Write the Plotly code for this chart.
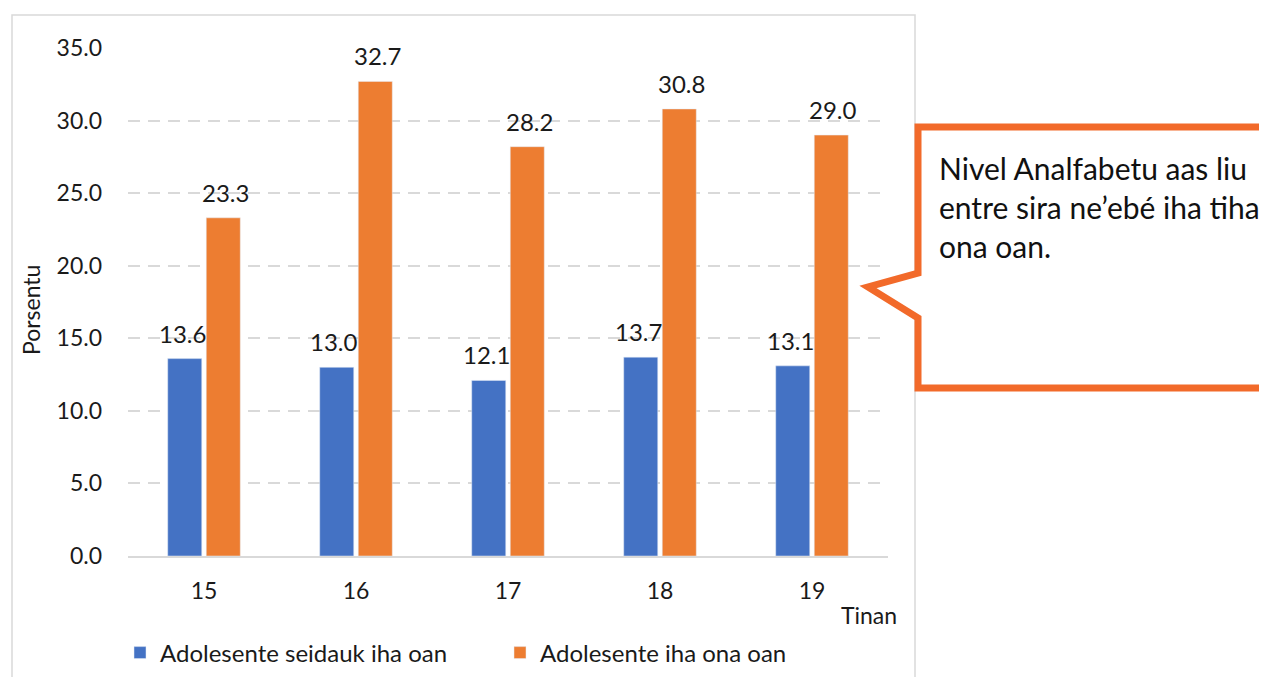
import plotly.graph_objects as go

categories = ["15", "16", "17", "18", "19"]
no_child = [13.6, 13.0, 12.1, 13.7, 13.1]
has_child = [23.3, 32.7, 28.2, 30.8, 29.0]
series_names = ["Adolesente seidauk iha oan", "Adolesente iha ona oan"]
y_ticks = [0, 5, 10, 15, 20, 25, 30, 35]
callout_lines = ["Nivel Analfabetu aas liu", "entre sira ne\u2019ebé iha tiha", "ona oan."]

BLUE = "#4472C4"
ORANGE = "#ED7D31"
CALLOUT = "#F26A2A"
FONT = "Lato"
TXT = "#1a1a1a"

O = 8  # page body margin offset
W, H = 1267 - O, 677 - O
L, R, T, B = 128 - O, 888 - O, 48 - O, 556 - O


def px(x):
    return (x - O - L) / (R - L)


def py(y):
    return (B - (y - O)) / (B - T)


fig = go.Figure()
fig.add_trace(go.Bar(x=categories, y=no_child, name=series_names[0], marker_color=BLUE))
fig.add_trace(go.Bar(x=categories, y=has_child, name=series_names[1], marker_color=ORANGE))

annotations = []
for vals, shift in ((no_child, -22), (has_child, 21)):
    for i, v in enumerate(vals):
        annotations.append(dict(x=i, y=v, xref="x", yref="y", text=f"{v:.1f}",
                                showarrow=False, xshift=shift, yanchor="bottom", yshift=9,
                                font=dict(family=FONT, size=24, color=TXT)))

annotations.append(dict(xref="paper", yref="paper", x=px(31), y=py(310), text="Porsentu",
                        xanchor="center", yanchor="middle",
                        textangle=-90, showarrow=False, font=dict(family=FONT, size=23, color=TXT)))
annotations.append(dict(xref="paper", yref="paper", x=px(869), y=py(615), text="Tinan",
                        xanchor="center", yanchor="middle",
                        showarrow=False, font=dict(family=FONT, size=23, color=TXT)))
annotations.append(dict(xref="paper", yref="paper", x=px(937), y=py(148), text="<br>".join(callout_lines),
                        xanchor="left", yanchor="top", align="left", showarrow=False,
                        font=dict(family=FONT, size=30, color="#111111")))

shapes = [
    dict(type="rect", xref="paper", yref="paper", x0=px(12), x1=px(915), y0=py(15), y1=py(700),
         line=dict(color="#D9D9D9", width=1.5), layer="below"),
    dict(type="path", xref="paper", yref="paper",
         path=(f"M {px(918)},{py(127)} L {px(1290)},{py(127)} L {px(1290)},{py(388)} "
               f"L {px(918)},{py(388)} L {px(918)},{py(318)} L {px(868)},{py(287)} "
               f"L {px(918)},{py(273)} Z"),
         line=dict(color=CALLOUT, width=7), fillcolor="white", layer="above"),
]

fig.update_layout(
    width=W, height=H,
    margin=dict(l=L, r=W - R, t=T, b=H - B, autoexpand=False),
    paper_bgcolor="white", plot_bgcolor="white",
    barmode="group", bargap=0.493, bargroupgap=0.117,
    font=dict(family=FONT, size=24, color=TXT),
    showlegend=True,
    legend=dict(orientation="h", x=px(120), y=py(653), xanchor="left", yanchor="middle",
                font=dict(family=FONT, size=24, color=TXT), itemwidth=30, tracegroupgap=0,
                entrywidth=335, bgcolor="rgba(0,0,0,0)"),
    annotations=annotations, shapes=shapes,
)
fig.update_xaxes(type="category", range=[-0.5, len(categories) - 0.5], showgrid=False,
                 showline=True, linecolor="#D9D9D9", linewidth=1.5,
                 ticks="", ticklabelstandoff=14, tickfont=dict(family=FONT, size=23, color=TXT))
fig.update_yaxes(range=[0, 35], tickvals=y_ticks, tickformat=".1f", showgrid=True,
                 gridcolor="#D9D9D9", griddash="12px,8px", gridwidth=1.5, zeroline=False,
                 showline=False, ticks="", ticklabelstandoff=25,
                 tickfont=dict(family=FONT, size=23, color=TXT))

fig.write_html("out.html")
